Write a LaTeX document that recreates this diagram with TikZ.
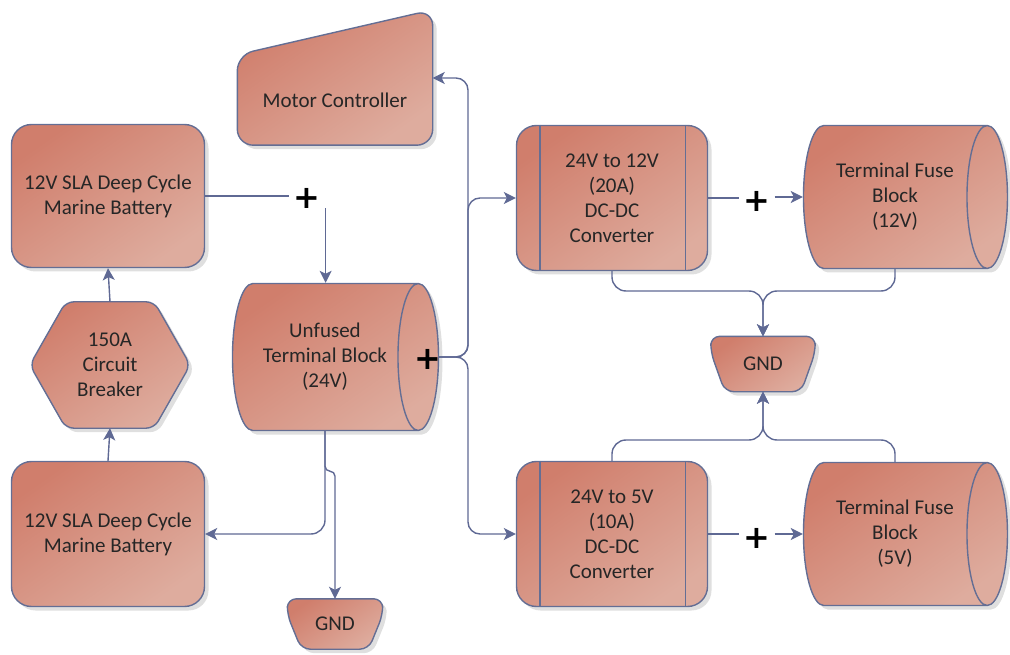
\documentclass[tikz,border=0pt]{standalone}
\usepackage{fontspec}
\setmainfont{Carlito}
\newfontfamily\plusfont{DejaVu Sans}
\usetikzlibrary{shapes.geometric,shadows,backgrounds,arrows.meta}

\definecolor{boxtop}{RGB}{208,126,108}
\definecolor{boxbot}{RGB}{222,172,158}
\definecolor{edgecol}{RGB}{100,110,148}
\definecolor{wirecol}{RGB}{95,105,148}

\tikzset{
  >={Stealth[length=12pt,width=12pt,inset=3pt]},
  shp/.style={draw=edgecol, line width=1.4pt, top color=boxtop, bottom color=boxbot, shading angle=35,
    drop shadow={shadow xshift=4pt, shadow yshift=-4pt, opacity=0.25}},
  lbl/.style={align=center, text=black!85, font=\fontsize{21}{25}\selectfont, inner sep=0pt},
  box/.style={shp, lbl, rounded corners=20pt, minimum width=193pt, minimum height=143pt},
  drum/.style={shp, lbl, cylinder, shape aspect=0.6, minimum width=147pt},
  plus/.style={font=\plusfont\bfseries\fontsize{32}{32}\selectfont, inner sep=0pt},
  wire/.style={draw=wirecol, line width=1.4pt}
}

\begin{document}
\begin{tikzpicture}[x=1pt,y=-1pt]
\useasboundingbox (0,0) rectangle (1010,655);

\node[box] (bat1) at (108,196) {12V SLA Deep Cycle\\Marine Battery};
\node[lbl, minimum width=160pt, minimum height=126pt] (cb) at (110,365) {150A\\Circuit\\Breaker};
\node[box, minimum height=145pt] (bat2) at (108,534) {12V SLA Deep Cycle\\Marine Battery};
\node[lbl, minimum width=195pt, minimum height=90pt] (mc) at (335,100) {Motor Controller};
\node[drum, minimum height=206pt] (tb) at (325,357) {Unfused\\Terminal Block\\(24V)};
\node[lbl, minimum width=95pt, minimum height=50pt] (gnd1) at (335,624) {GND};
\node[box, minimum width=191pt, minimum height=145pt] (cv1) at (612,198) {24V to 12V\\(20A)\\DC-DC\\Converter};
\node[box, minimum width=191pt, minimum height=145pt] (cv2) at (612,534) {24V to 5V\\(10A)\\DC-DC\\Converter};
\node[drum, minimum height=204pt, minimum width=143pt] (fb1) at (895,197) {Terminal Fuse\\Block\\(12V)};
\node[drum, minimum height=204pt, minimum width=143pt] (fb2) at (895,534) {Terminal Fuse\\Block\\(5V)};
\node[lbl, minimum width=104pt, minimum height=55pt] (gnd2) at (763,364) {GND};

\begin{scope}[on background layer]
\path[shp, rounded corners=8pt] (cb.west) -- ([xshift=36pt]cb.north west) -- ([xshift=-36pt]cb.north east)
  -- (cb.east) -- ([xshift=-36pt]cb.south east) -- ([xshift=36pt]cb.south west) -- cycle;
\path[shp, rounded corners=16pt] (mc.south west) -- (mc.north west) -- ([yshift=45pt]mc.north east)
  -- (mc.south east) -- cycle;
\foreach \g in {gnd1,gnd2}
  \path[shp, rounded corners=9pt] (\g.north west) -- ([yshift=-16pt]\g.north west) -- ([xshift=14pt]\g.south west)
    -- ([xshift=-14pt]\g.south east) -- ([yshift=-16pt]\g.north east) -- (\g.north east) -- cycle;
\end{scope}

\foreach \n in {cv1,cv2} {
  \draw[draw=edgecol, line width=1.4pt] ([xshift=24pt]\n.north west) -- ([xshift=24pt]\n.south west);
  \draw[draw=edgecol, line width=1.4pt] ([xshift=-23pt]\n.north east) -- ([xshift=-23pt]\n.south east);
}

\node[plus] (p1) at (307,198) {+};
\node[plus] (p2) at (428,359) {+};
\node[plus] (p3) at (757,201) {+};
\node[plus] (p4) at (757,538) {+};

\coordinate (bus) at (468,357);
\coordinate (j1) at (763,291);
\coordinate (j2) at (763,440);

\draw[wire, shorten >=4pt] (bat1.east) -- (bat1.east -| p1.west);
\draw[wire, ->] ([xshift=5pt]p1.south east) -- ([xshift=5pt]p1.south east |- tb.north);
\draw[wire, ->] (cb.north) -- (bat1.south);
\draw[wire, ->] (bat2.north) -- (cb.south);
\draw[wire, ->, rounded corners=12pt] (tb.east) -- (bus) |- ([yshift=22pt]mc.east);
\draw[wire, ->, rounded corners=12pt] (tb.east) -- (bus) |- (cv1.west);
\draw[wire, ->, rounded corners=12pt] (tb.east) -- (bus) |- (cv2.west);
\draw[wire, ->, rounded corners=14pt] (tb.south) |- (bat2.east);
\draw[wire, ->, rounded corners=5pt] (tb.south) -- ([yshift=-40pt]tb.south) -| (gnd1.north);
\draw[wire, shorten >=4pt] (cv1.east) -- (cv1.east -| p3.west);
\draw[wire, ->, shorten <=4pt] (fb1.west -| p3.east) -- (fb1.west);
\draw[wire, shorten >=4pt] (cv2.east) -- (cv2.east -| p4.west);
\draw[wire, ->, shorten <=4pt] (fb2.west -| p4.east) -- (fb2.west);
\draw[wire, ->, rounded corners=14pt] (cv1.south) |- (j1) -- (gnd2.north);
\draw[wire, ->, rounded corners=14pt] (fb1.south) |- (j1) -- (gnd2.north);
\draw[wire, ->, rounded corners=14pt] (cv2.north) |- (j2) -- (gnd2.south);
\draw[wire, ->, rounded corners=14pt] (fb2.north) |- (j2) -- (gnd2.south);
\end{tikzpicture}
\end{document}
